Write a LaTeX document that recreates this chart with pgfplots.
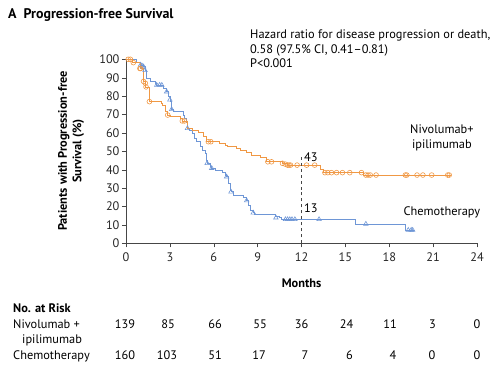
\documentclass[border=0pt]{standalone}
\usepackage{pgfplots}
\pgfplotsset{compat=1.18}
\usepackage{fontspec}
\setmainfont{PT Sans}
\definecolor{nivo}{RGB}{240,152,68}
\definecolor{chemo}{RGB}{110,150,214}
\definecolor{axgray}{RGB}{70,70,70}
\begin{document}
\begin{tikzpicture}[x=1bp,y=1bp]
\begin{axis}[
  scale only axis, width=351bp, height=184bp,
  xmin=0,xmax=24,ymin=0,ymax=100,
  axis lines=left, axis line style={draw=axgray,-},
  xtick={0,3,...,24}, ytick={0,10,...,100},
  tick align=outside, major tick length=4bp,
  tick style={axgray,thin},
  /pgf/number format/assume math mode=true,
  tick label style={font=\fontsize{12.4}{14}\selectfont, text=black!85},
  xticklabel style={yshift=-2bp},
  yticklabel style={xshift=1bp},
  xlabel={\bfseries Months}, xlabel style={yshift=-10bp},
  label style={font=\fontsize{12.4}{14}\selectfont},
  clip=false,
  every axis plot/.append style={line width=0.6pt},
]
\addplot[chemo, const plot] coordinates {
(0,100)(0.73,98.2)(1.0,97)(1.18,96)(1.3,94)(1.37,92.4)(1.41,89.7)(1.64,87.8)(1.98,87)(2.1,86)(2.55,84.2)(2.78,82.4)(2.9,79.7)(3.0,77)(3.12,72.8)(3.2,72)(3.8,71.5)(3.9,69.7)(4.0,68)(4.1,66)(4.2,62.5)(4.3,61.6)(4.5,59.8)(4.7,57)(4.8,55.2)(5.06,52.5)(5.2,50.7)(5.4,48.9)(5.5,45)(5.55,43.5)(5.74,41.6)(5.86,40.8)(6.08,39.8)(6.6,38.5)(6.77,37.1)(6.88,36.2)(7.0,32.6)(7.1,29)(7.18,28)(7.33,26.2)(8.0,25)(8.25,23.2)(8.35,20.8)(8.48,18.1)(8.7,16.6)(8.8,15.9)(10.2,14.5)(10.5,13.9)(10.64,13.0)(15.65,10.5)(19.07,7.2)(19.7,7.2)};
\addplot[chemo, only marks, mark=triangle, mark size=2.6pt, mark options={line width=0.6pt}] coordinates {
(1.0,97)(1.1,96.5)(1.2,96)(1.3,94)(2.1,86)(2.3,86)(2.45,86)(2.78,82.4)(3.0,78)(3.12,72.8)(4.2,62.5)(5.55,43.5)(5.86,40.8)(6.88,36.2)(7.18,28)(8.25,23.2)(8.7,16.6)(10.25,13.9)(10.9,13)(11.05,13)(11.2,13)(11.35,13)(11.55,13)(13.2,13)(16.4,10.5)(19.3,7.2)(19.5,7.2)(19.6,7.2)};
\addplot[nivo, const plot] coordinates {
(0,100)(0.45,98.2)(0.95,95)(1.18,88)(1.35,85)(1.6,77)(2.43,76)(2.5,75)(2.67,71.5)(2.85,69.7)(3.0,68.8)(3.7,68)(3.85,66.5)(4.2,62.5)(4.5,61.6)(4.94,60.6)(5.28,58)(5.5,55.2)(6.4,54.3)(6.77,53.4)(6.9,52.5)(7.56,51.6)(7.8,50.7)(8.2,49.5)(8.6,48)(9.2,47)(9.6,44.3)(10.7,43.5)(11.0,42.5)(13.3,40.2)(13.5,38.4)(16.2,37.1)(22.2,37.1)};
\addplot[nivo, only marks, mark=o, mark size=2.4pt, mark options={line width=0.6pt}] coordinates {
(0.15,100)(0.3,100)(0.5,98.2)(0.95,95)(1.0,95)(1.2,88)(1.32,87)(1.37,85)(1.6,77)(2.85,69.7)(3.85,66.5)(4.0,66.5)(5.63,55.2)(5.8,55.2)(9.7,44.3)(9.95,44.3)(10.7,43.5)(10.9,43.0)(11.05,42.5)(11.15,42.5)(11.25,42.5)(11.7,42.5)(12.35,42.5)(12.9,42.5)(13.6,38.4)(13.8,38.4)(14.05,38.4)(14.4,38.4)(14.8,38.4)(15.3,38.4)(16.1,38.4)(16.4,37.1)(16.55,37.1)(16.7,37.1)(17.1,37.1)(19.1,37.1)(19.2,37.1)(19.9,37.1)(20.3,37.1)(20.9,37.1)(22.0,37.1)(22.1,37.1)};
\addplot[axgray, dashed, line width=0.6pt] coordinates {(12,0)(12,48)};
\node[anchor=west,inner sep=1pt,font=\fontsize{12.4}{14}\selectfont] at (axis cs:12.1,47) {43};
\node[anchor=west,inner sep=1pt,font=\fontsize{12.4}{14}\selectfont] at (axis cs:12.1,19) {13};
\node[align=center,inner sep=0,font=\fontsize{12.4}{14.5}\selectfont] at (axis cs:21.6,57.2) {Nivolumab+\\ipilimumab};
\node[inner sep=0,font=\fontsize{12.4}{14}\selectfont] at (axis cs:21.6,16.6) {Chemotherapy};
\end{axis}
\begin{scope}[shift={(-126,243.3)}]
\path[use as bounding box] (0,0) rectangle (499,-376);
\fontsize{12.4}{14.5}\selectfont
% title
\node[anchor=base west,inner sep=0] at (8,-18) {\fontsize{14}{16}\selectfont\bfseries A\hspace{7pt}Progression-free Survival};
% annotation
\node[anchor=north west,inner sep=0,align=left] at (250,-30) {Hazard ratio for disease progression or death,\\0.58 (97.5\% CI, 0.41--0.81)\\P<0.001};
% y label
\node[rotate=90,align=center,inner sep=0,font=\bfseries] at (71,-151) {Patients with Progression-free\\Survival (\%)};
% risk table
\node[anchor=base west,inner sep=0,font=\bfseries] at (13,-312) {No. at Risk};
\node[anchor=base west,inner sep=0] at (13,-328) {Nivolumab +};
\node[anchor=base west,inner sep=0] at (22,-343) {ipilimumab};
\node[anchor=base west,inner sep=0] at (13,-359) {Chemotherapy};
\foreach \x/\v in {125/139,168/85,215/66,260/55,301.5/36,346.5/24,390/11,432.5/3,477/0}
  \node[anchor=base,inner sep=0] at (\x,-328) {\v};
\foreach \x/\v in {125/160,167/103,215/51,259/17,305/7,349.5/6,393/4,432/0,477/0}
  \node[anchor=base,inner sep=0] at (\x,-359) {\v};
\end{scope}
\end{tikzpicture}
\end{document}
